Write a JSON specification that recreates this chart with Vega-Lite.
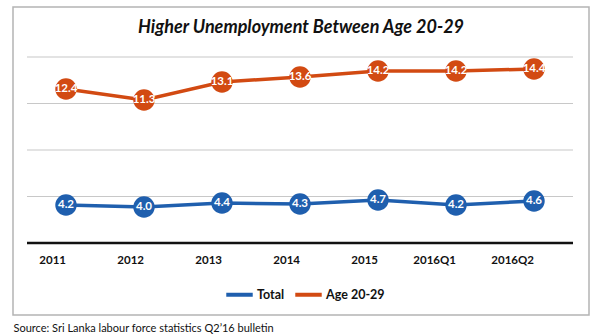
{
  "$schema": "https://vega.github.io/schema/vega-lite/v6.json",
  "width": 576,
  "height": 308,
  "autosize": {"type": "none"},
  "padding": {"left": 13, "top": 7, "right": 11, "bottom": 20},
  "background": "white",
  "title": {
    "text": "Higher Unemployment Between Age 20-29",
    "font": "Lato",
    "fontSize": 18,
    "fontWeight": "bold",
    "fontStyle": "italic",
    "color": "#111111",
    "anchor": "middle",
    "frame": "group",
    "offset": -30
  },
  "config": {
    "view": {"stroke": "#b4b4b4", "strokeWidth": 1.5},
    "font": "Lato"
  },
  "layer": [
    {
      "data": {
        "values": [
          {"g": 0, "from": "2011", "to": "2016Q2", "kind": "axis"},
          {"g": 1, "from": "2011", "to": "2016Q2", "kind": "grid"},
          {"g": 2, "from": "2011", "to": "2016Q2", "kind": "grid"},
          {"g": 3, "from": "2011", "to": "2016Q2", "kind": "grid"},
          {"g": 4, "from": "2011", "to": "2016Q2", "kind": "grid"}
        ]
      },
      "mark": {"type": "rule"},
      "encoding": {
        "x": {"field": "from", "type": "ordinal", "bandPosition": 0},
        "x2": {"field": "to", "bandPosition": 1},
        "y": {"field": "g", "type": "quantitative", "scale": {"domain": [0, 4], "range": [236, 50]}, "axis": null},
        "stroke": {
          "field": "kind", "type": "nominal",
          "scale": {"domain": ["axis", "grid"], "range": ["#111111", "#c8c8c8"]},
          "legend": null
        },
        "strokeWidth": {
          "field": "kind", "type": "nominal",
          "scale": {"domain": ["axis", "grid"], "range": [2.5, 1.2]},
          "legend": null
        }
      }
    },
    {
      "data": {
        "values": [
          {"period": "2011", "series": "Total", "value": 4.2},
          {"period": "2012", "series": "Total", "value": 4.0},
          {"period": "2013", "series": "Total", "value": 4.4},
          {"period": "2014", "series": "Total", "value": 4.3},
          {"period": "2015", "series": "Total", "value": 4.7},
          {"period": "2016Q1", "series": "Total", "value": 4.2},
          {"period": "2016Q2", "series": "Total", "value": 4.6},
          {"period": "2011", "series": "Age 20-29", "value": 12.4},
          {"period": "2012", "series": "Age 20-29", "value": 11.3},
          {"period": "2013", "series": "Age 20-29", "value": 13.1},
          {"period": "2014", "series": "Age 20-29", "value": 13.6},
          {"period": "2015", "series": "Age 20-29", "value": 14.2},
          {"period": "2016Q1", "series": "Age 20-29", "value": 14.2},
          {"period": "2016Q2", "series": "Age 20-29", "value": 14.4}
        ]
      },
      "encoding": {
        "x": {
          "field": "period",
          "type": "ordinal",
          "sort": ["2011", "2012", "2013", "2014", "2015", "2016Q1", "2016Q2"],
          "scale": {"type": "band", "range": [14, 560], "paddingInner": 0, "paddingOuter": 0},
          "axis": {
            "orient": "bottom",
            "offset": -61,
            "domain": false,
            "ticks": false,
            "grid": false,
            "labelPadding": 0,
            "labelBaseline": "top",
            "labelAngle": 0,
            "labelFont": "Lato",
            "labelFontSize": 11.5,
            "labelFontWeight": "bold",
            "labelColor": "#111111",
            "title": "Source: Sri Lanka labour force statistics Q2\u201916 bulletin",
            "titleFont": "Lato",
            "titleFontSize": 11,
            "titleFontWeight": "normal",
            "titleColor": "#111111",
            "titleAlign": "left",
            "titleAnchor": "start",
            "titleBaseline": "alphabetic",
            "titleX": 0,
            "titleY": 77
          }
        },
        "y": {
          "field": "value",
          "type": "quantitative",
          "scale": {"domain": [0, 5, 11, 16], "range": [240, 190, 96, 46]},
          "axis": null
        },
        "color": {
          "field": "series",
          "type": "nominal",
          "scale": {"domain": ["Total", "Age 20-29"], "range": ["#1f5fae", "#d24a12"]},
          "legend": {
            "orient": "none",
            "direction": "horizontal",
            "legendX": 211,
            "legendY": 272,
            "title": null,
            "symbolType": "stroke",
            "symbolSize": 700,
            "symbolStrokeWidth": 4,
            "labelFont": "Lato",
            "labelFontSize": 12.5,
            "labelFontWeight": "bold",
            "labelColor": "#111111",
            "labelOffset": 2,
            "columnPadding": 2
          }
        }
      },
      "layer": [
        {"mark": {"type": "line", "strokeWidth": 3.5}},
        {"mark": {"type": "point", "filled": true, "opacity": 1, "size": 460, "shape": "circle"}},
        {
          "mark": {"type": "text", "color": "white", "font": "Lato", "fontSize": 11.5, "fontWeight": "bold", "align": "center", "baseline": "middle"},
          "encoding": {
            "text": {"field": "value", "type": "quantitative", "format": ".1f"},
            "color": {"value": "white"}
          }
        }
      ]
    }
  ],
  "resolve": {"scale": {"y": "independent", "color": "independent"}}
}
